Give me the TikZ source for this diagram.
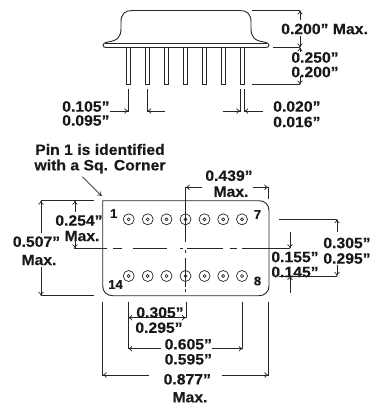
\documentclass[tikz,border=0pt]{standalone}
\usepackage{fontspec}
\setmainfont[FakeStretch=1.05,BoldFeatures={FakeBold=0.3}]{Liberation Sans}
\usetikzlibrary{arrows.meta}
\tikzset{
  x=1pt,y=-1pt,
  part/.style={line width=0.9pt,draw=black!85},
  thinl/.style={line width=0.75pt,draw=black!85},
  dimarr/.style={line width=0.7pt,draw=black!85,-{To[length=4pt,width=5.5pt]}},
  dimboth/.style={line width=0.7pt,draw=black!85,{To[length=4pt,width=5.5pt]}-{To[length=4pt,width=5.5pt]}},
  lab/.style={font=\bfseries\fontsize{15}{15}\selectfont,inner sep=0pt,text=black!90},
  pinlab/.style={font=\bfseries\fontsize{12.5}{13}\selectfont,inner sep=0pt,text=black!90},
  hole/.style={circle,draw=black!85,line width=0.7pt,minimum size=11pt,inner sep=0pt},
  holec/.style={circle,draw=black!85,line width=0.7pt,minimum size=3pt,inner sep=0pt}
}
\begin{document}
\begin{tikzpicture}
\useasboundingbox (0,0) rectangle (381,412);
% side view body
\draw[part] (103,45) .. controls (103,43.5) and (105,42.5) .. (108,42)
  .. controls (118,40.5) and (121,37) .. (121,28) -- (121,22)
  .. controls (121,14) and (125,10.5) .. (132,10.5) -- (240,10.5)
  .. controls (247,10.5) and (251,14) .. (251,22) -- (251,28)
  .. controls (251,37) and (254,40.5) .. (264,42)
  .. controls (267,42.5) and (269,43.5) .. (269,45)
  .. controls (269,47) and (268,47.5) .. (265,47.5) -- (107,47.5)
  .. controls (104,47.5) and (103,47) .. (103,45) -- cycle;
\draw[part] (105,43) -- (267,43);
\foreach \px in {128.3,147.3,166.3,185.3,204.3,223.3,242.3}
  \draw[thinl] (\px-2,47.5) -- (\px-2,84.5) -- (\px+2,84.5) -- (\px+2,47.5);
% side view dimensions
\draw[thinl] (252,10.5) -- (300,10.5);
\draw[thinl] (273,47.5) -- (300,47.5);
\draw[thinl] (252,84.5) -- (300,84.5);
\draw[dimarr] (300,20) -- (300,10.5);
\draw[dimarr] (300,36) -- (300,47.5);
\draw[dimarr] (300,52) -- (300,47.5);
\draw[dimarr] (300,76) -- (300,84.5);
\node[lab,anchor=west] (t200) at (281,29) {0.200” Max.};
\node[lab] (t250) at (315,57.5) {0.250”};
\node[lab] (t200b) at (315,72) {0.200”};
\draw[thinl] (128.3,89) -- (128.3,112);
\draw[thinl] (147.3,89) -- (147.3,112);
\draw[thinl] (240.3,89) -- (240.3,112);
\draw[thinl] (244.3,89) -- (244.3,112);
\draw[dimarr] (110,111) -- (128.3,111);
\draw[dimarr] (165,111) -- (147.3,111);
\draw[dimarr] (222.5,111) -- (240.3,111);
\draw[dimarr] (263,111) -- (244.3,111);
\node[lab,anchor=west] (t105) at (62,106.5) {0.105”};
\node[lab,anchor=west] (t095) at (62,120.5) {0.095”};
\node[lab,anchor=west] (t020) at (273,106.5) {0.020”};
\node[lab,anchor=west] (t016) at (273,122) {0.016”};
% top view
\node[lab] (pina) at (100,149.5) {Pin 1 is identified};
\node[lab] (pinb) at (100,166.5) {with a Sq. Corner};
\draw[dimarr] (82.3,176.7) -- (101.7,196);
\draw[part] (102.7,200.7) -- (259,200.7) .. controls (265,200.7) and (269,204.7) .. (269,210.7)
  -- (269,285.7) .. controls (269,291.7) and (265,295.7) .. (259,295.7)
  -- (112.7,295.7) .. controls (106.7,295.7) and (102.7,291.7) .. (102.7,285.7) -- cycle;
\foreach \px in {128.7,147.7,166.5,185.5,204.5,223.2,242}{
  \node[hole] at (\px,219.3) {}; \node[holec] at (\px,219.3) {};
  \node[hole] at (\px,276) {}; \node[holec] at (\px,276) {};
}
\node[pinlab] (p1) at (113.7,213.5) {1};
\node[pinlab] (p14) at (115.5,284.5) {14};
\node[pinlab] (p7) at (257.5,214.5) {7};
\node[pinlab] (p8) at (257.5,281) {8};
% centre lines
\draw[thinl] (74,248.3) -- (107,248.3) (113,248.3) -- (122,248.3) (133,248.3) -- (167,248.3)
  (180,248.3) -- (183,248.3) (187,248.3) -- (223,248.3) (230,248.3) -- (237,248.3) (242,248.3) -- (290,248.3);
\draw[thinl] (185.7,187) -- (185.7,242) (185.7,250) -- (185.7,253) (185.7,258) -- (185.7,287) (185.7,289) -- (185.7,292);
% 0.507 and 0.254
\draw[thinl] (41,200.7) -- (94,200.7);
\draw[thinl] (41,295.7) -- (94,295.7);
\draw[dimarr] (41,233) -- (41,200.7);
\draw[dimarr] (41,267) -- (41,295.7);
\draw[dimarr] (75,212) -- (75,200.7);
\draw[dimarr] (75,238) -- (75,248.3);
\node[lab] (t507) at (36.5,241.7) {0.507”};
\node[lab] (t507m) at (39,260) {Max.};
\node[lab] (t254) at (79,220.5) {0.254”};
\node[lab] (t254m) at (82,236) {Max.};
% 0.439
\draw[dimarr] (201.7,187.3) -- (185.7,187.3);
\draw[dimarr] (252.7,187.3) -- (268.3,187.3);
\draw[thinl] (268.5,187.3) -- (268.5,199);
\node[lab] (t439) at (229,175.7) {0.439”};
\node[lab] (t439m) at (231,191.7) {Max.};
% right side
\draw[thinl] (279,219.3) -- (337,219.3);
\draw[thinl] (279,276) -- (337,276);
\draw[dimarr] (337,232) -- (337,219.3);
\draw[dimarr] (337,265) -- (337,276);
\node[lab] (t305r) at (347,243) {0.305”};
\node[lab] (t295r) at (347,258.5) {0.295”};
\draw[dimarr] (290,232) -- (290,248.3);
\draw[dimarr] (290,293) -- (290,276);
\node[lab] (t155) at (295,257) {0.155”};
\node[lab] (t145) at (295,272) {0.145”};
% bottom
\draw[thinl] (102.7,301.7) -- (102.7,375.5);
\draw[thinl] (268.3,301.7) -- (268.3,375.5);
\draw[thinl] (128.3,301.7) -- (128.3,349);
\draw[thinl] (242.7,301.7) -- (242.7,349);
\draw[thinl] (186,301.7) -- (186,318);
\draw[dimboth] (128.3,317.7) -- (186,317.7);
\draw[dimarr] (161,348.7) -- (128.3,348.7);
\draw[dimarr] (211.7,348.7) -- (242.7,348.7);
\draw[dimarr] (149.3,375) -- (102.7,375);
\draw[dimarr] (222.3,375) -- (268.3,375);
\node[lab] (t305b) at (160,312.5) {0.305”};
\node[lab] (t295b) at (159,327.7) {0.295”};
\node[lab] (t605) at (188.3,344.3) {0.605”};
\node[lab] (t595) at (188.3,359.3) {0.595”};
\node[lab] (t877) at (187.3,379.3) {0.877”};
\node[lab] (t877m) at (190,397.3) {Max.};
\end{tikzpicture}
\end{document}
